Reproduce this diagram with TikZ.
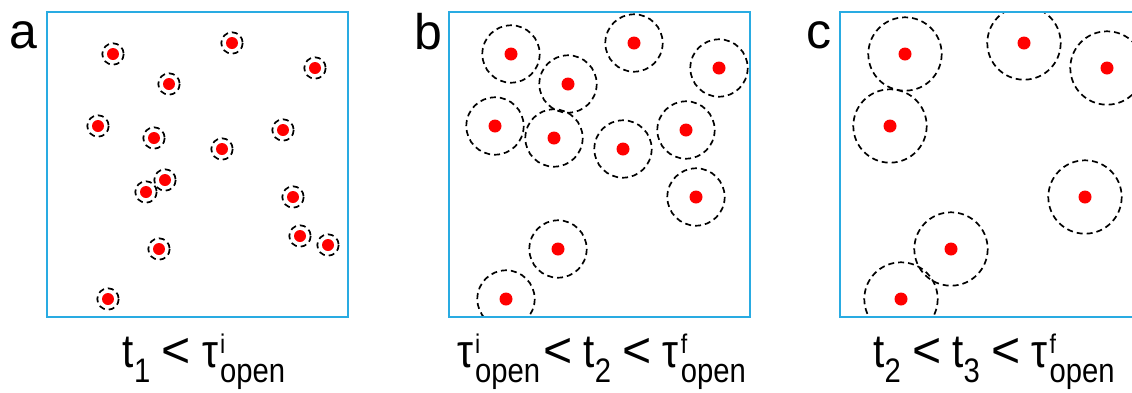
\documentclass[tikz,border=0pt]{standalone}
\usepackage{fontspec}
\setmainfont{Liberation Sans}
\newfontfamily\lblfont[FakeStretch=0.86]{Liberation Sans}
\usetikzlibrary{positioning}
\definecolor{boxBlue}{HTML}{29ABE2}
\definecolor{dotRed}{HTML}{FF0000}
\newcommand{\lowidx}[1]{\raisebox{-7.5pt}{\fontsize{17}{18}\selectfont #1}}
\newcommand{\tauopen}[1]{τ\kern1pt\rlap{\raisebox{7pt}{\fontsize{13.5}{14}\selectfont #1}}\lowidx{open}}
\newcommand{\lessop}{{\normalfont\fontsize{25}{27}\selectfont <}}

\begin{document}
\begin{tikzpicture}[x=0.5pt,y=-0.5pt,
  panelbox/.style={draw=boxBlue,line width=1.1pt,minimum width=150.5pt,minimum height=152.5pt,outer sep=0pt,inner sep=0pt},
  ring/.style={draw,dash pattern=on 3pt off 2pt,line width=0.85pt},
  spot/.style={fill=dotRed},
  tag/.style={font=\fontsize{25}{30}\selectfont,anchor=base},
  timelbl/.style={font=\lblfont\fontsize{23.5}{27}\selectfont,anchor=base}]
  \useasboundingbox (0,0) rectangle (1132,392);
  \node[panelbox] (boxa) at (197.5,164.5) {};
  \node[panelbox] (boxb) at (599.5,164.5) {};
  \node[panelbox] (boxc) at (990.5,164.5) {};
  % a: rings barely around the dots
  \begin{scope}
    \clip (boxa.north west) rectangle (boxa.south east);
    \foreach \px/\py in {113/54,232/43,315/68,169/84,98/126,154/138,283/130,222/149,
                         165/180,146/192,293/197,300/236,328/245,159/249,108/299}{
      \draw[ring] (\px,\py) circle[radius=10.7];
      \fill[spot] (\px,\py) circle[radius=6];
    }
  \end{scope}
  % b: rings grown
  \begin{scope}
    \clip (boxb.north west) rectangle (boxb.south east);
    \foreach \px/\py in {511/54,634/43,719/68,568/84,495/126,554/138,686/130,623/149,
                         696/197,558/249,506/299}{
      \draw[ring] (\px,\py) circle[radius=28.7];
      \fill[spot] (\px,\py) circle[radius=6.5];
    }
  \end{scope}
  % c: fewer dots, biggest rings
  \begin{scope}
    \clip (boxc.north west) rectangle (boxc.south east);
    \foreach \px/\py in {905/54,1024/43,1107/68,890/126,1085/197,951/249,901/299}{
      \draw[ring] (\px,\py) circle[radius=36.7];
      \fill[spot] (\px,\py) circle[radius=6.5];
    }
  \end{scope}
  \node[panelbox] at (boxa) {};
  \node[panelbox] at (boxb) {};
  \node[panelbox] at (boxc) {};
  \node[tag] (taga) at (23.5,48) {a};
  \node[tag] (tagb) at (428.5,49) {b};
  \node[tag] (tagc) at (818.5,48) {c};
  \node[timelbl] (timea) at (204,367) {t\lowidx{1} \lessop{} \tauopen{i}};
  \node[timelbl] (timeb) at (601.5,367) {\tauopen{i}\kern1.5pt\lessop{} t\lowidx{2} \lessop{} \tauopen{f}};
  \node[timelbl] (timec) at (994,367) {t\lowidx{2} \lessop{} t\lowidx{3} \lessop{} \tauopen{f}};
\end{tikzpicture}
\end{document}
